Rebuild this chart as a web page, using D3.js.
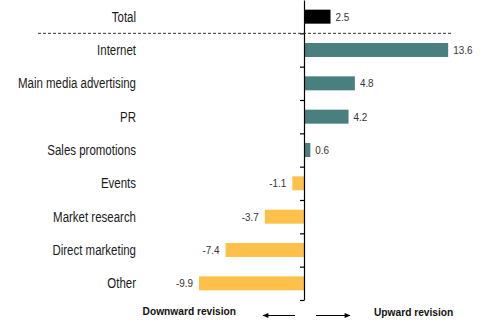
<!DOCTYPE html>
<html>
<head>
<meta charset="utf-8">
<script src="https://cdn.jsdelivr.net/npm/d3@7"></script>
<style>
  body { margin: 0; background: #fff; }
  svg { display: block; font-family: "Liberation Sans", Arial, sans-serif; }
  .cat { font-size: 14px; fill: #1a1a1a; }
  .val { font-size: 11.5px; fill: #333; }
  .dir { font-size: 10.2px; font-weight: bold; fill: #111; }
</style>
</head>
<body>
<div id="chart"></div>
<script>
const categories = ['Total', 'Internet', 'Main media advertising', 'PR', 'Sales promotions',
                    'Events', 'Market research', 'Direct marketing', 'Other'];
const values = [2.5, 13.6, 4.8, 4.2, 0.6, -1.1, -3.7, -7.4, -9.9];
const directionLabels = ['Downward revision', 'Upward revision'];

const W = 500, H = 333;
const TEAL = '#4a7f7f', YELLOW = '#fdc04b', BLACK = '#000';

const svg = d3.select('#chart').append('svg').attr('width', W).attr('height', H);

const x = d3.scaleLinear().domain([-10, 14]).range([198, 452.4]);
const y = d3.scaleBand().domain(categories).range([0, 300])
  .paddingInner(0.58).paddingOuter(0.29);

function colour(d, i) {
  if (i === 0) return BLACK;
  return d < 0 ? YELLOW : TEAL;
}

const data = categories.map((c, i) => ({ cat: c, v: values[i], i: i }));
const midY = d => y(d.cat) + y.bandwidth() / 2;

// bars
svg.append('g').selectAll('rect')
  .data(data).enter().append('rect')
    .attr('x', d => x(Math.min(0, d.v)))
    .attr('y', d => y(d.cat))
    .attr('width', d => Math.abs(x(d.v) - x(0)))
    .attr('height', y.bandwidth())
    .attr('fill', d => colour(d.v, d.i));

// axis, ticks on the band boundaries
const tickScale = d3.scaleLinear().domain([0, categories.length]).range([0, 300]);
const axis = svg.append('g')
  .attr('transform', `translate(${x(0)},0)`)
  .call(d3.axisLeft(tickScale).tickValues(d3.range(1, categories.length + 1))
    .tickSize(4).tickSizeOuter(0).tickFormat(''));
axis.select('.domain').attr('stroke', '#000').attr('stroke-width', 1.2);
axis.selectAll('.tick line').attr('stroke', '#000').attr('stroke-width', 1.2);

// dashed separator below Total
svg.append('line')
  .attr('x1', 38).attr('x2', 452)
  .attr('y1', tickScale(1)).attr('y2', tickScale(1))
  .attr('stroke', '#333').attr('stroke-dasharray', '3,2');

// category labels (squeezed horizontally to look like the narrow face)
svg.append('g').selectAll('text')
  .data(data).enter().append('text')
    .attr('class', 'cat')
    .attr('transform', d => `translate(136,${midY(d)}) scale(0.82,1)`)
    .attr('dy', '0.35em')
    .attr('text-anchor', 'end')
    .text(d => d.cat);

// value labels
svg.append('g').selectAll('text')
  .data(data).enter().append('text')
    .attr('class', 'val')
    .attr('transform', d => `translate(${d.v < 0 ? x(d.v) - 6 : x(d.v) + 5},${midY(d)}) scale(0.86,1)`)
    .attr('dy', '0.35em')
    .attr('text-anchor', d => d.v < 0 ? 'end' : 'start')
    .text(d => d.v.toFixed(1));

// direction arrows
svg.append('defs').append('marker')
  .attr('id', 'head').attr('viewBox', '0 0 10 10')
  .attr('refX', 9).attr('refY', 5)
  .attr('markerWidth', 7).attr('markerHeight', 6)
  .attr('markerUnits', 'userSpaceOnUse')
  .attr('orient', 'auto')
  .append('path').attr('d', 'M0,1 L10,5 L0,9 Z').attr('fill', '#000');

svg.append('line')
  .attr('x1', x(0) - 9).attr('x2', x(0) - 41)
  .attr('y1', 315.5).attr('y2', 315.5)
  .attr('stroke', '#000').attr('stroke-width', 1)
  .attr('marker-end', 'url(#head)');
svg.append('line')
  .attr('x1', x(0) + 12).attr('x2', x(0) + 46)
  .attr('y1', 315.5).attr('y2', 315.5)
  .attr('stroke', '#000').attr('stroke-width', 1)
  .attr('marker-end', 'url(#head)');

svg.append('text').attr('class', 'dir')
  .attr('x', 236).attr('y', 315).attr('text-anchor', 'end')
  .text(directionLabels[0]);
svg.append('text').attr('class', 'dir')
  .attr('x', 374).attr('y', 316).attr('text-anchor', 'start')
  .text(directionLabels[1]);
</script>
</body>
</html>
